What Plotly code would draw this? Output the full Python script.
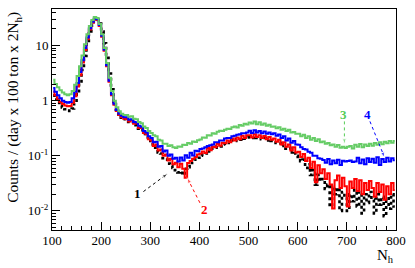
import plotly.graph_objects as go
import numpy as np

# ---------------- data (bin centres, 5 N_h wide bins) ----------------
bin_lo, bin_hi, bin_w = 100, 800, 5
nh = [bin_lo + bin_w / 2 + bin_w * i for i in range((bin_hi - bin_lo) // bin_w)]

curve1_black = [
    1.25, 1.05, 0.92, 0.82, 0.75, 0.7, 0.66, 0.65, 0.72, 0.9,
    1.3, 2.1, 3.6, 6.5, 10.5, 16.5, 23, 28, 29, 25,
    18, 11, 6, 3.1, 1.6, 0.95, 0.68, 0.56, 0.49, 0.46,
    0.44, 0.41, 0.42, 0.37, 0.36, 0.31, 0.29, 0.25, 0.22, 0.19,
    0.17, 0.145, 0.14, 0.115, 0.11, 0.09, 0.085, 0.072, 0.066, 0.06,
    0.055, 0.05, 0.052, 0.045, 0.058, 0.062, 0.07, 0.078, 0.085, 0.092,
    0.1, 0.105, 0.11, 0.125, 0.12, 0.135, 0.14, 0.15, 0.148, 0.16,
    0.165, 0.175, 0.17, 0.19, 0.185, 0.2, 0.195, 0.21, 0.205, 0.215,
    0.22, 0.21, 0.225, 0.21, 0.215, 0.2, 0.21, 0.19, 0.2, 0.185,
    0.185, 0.17, 0.172, 0.15, 0.155, 0.135, 0.14, 0.115, 0.12, 0.1,
    0.095, 0.08, 0.085, 0.06, 0.07, 0.045, 0.055, 0.03, 0.045, 0.035,
    0.038, 0.025, 0.03, 0.012, 0.028, 0.02, 0.026, 0.01, 0.022, 0.018,
    0.01, 0.02, 0.015, 0.024, 0.012, 0.022, 0.009, 0.02, 0.014, 0.022,
    0.016, 0.009, 0.02, 0.013, 0.018, 0.008, 0.017, 0.011, 0.02, 0.012,
]

curve2_red = [
    1.45, 1.25, 1.08, 0.95, 0.87, 0.82, 0.79, 0.8, 0.92, 1.2,
    1.8, 2.9, 4.9, 8.3, 13, 19.5, 26, 30, 29, 22.5,
    14.5, 8, 4.2, 2.2, 1.25, 0.84, 0.65, 0.55, 0.5, 0.47,
    0.46, 0.42, 0.44, 0.38, 0.39, 0.32, 0.32, 0.26, 0.245, 0.2,
    0.19, 0.15, 0.16, 0.125, 0.13, 0.1, 0.105, 0.082, 0.088, 0.07,
    0.075, 0.062, 0.072, 0.058, 0.04, 0.074, 0.08, 0.088, 0.095, 0.105,
    0.11, 0.12, 0.112, 0.138, 0.126, 0.148, 0.142, 0.165, 0.152, 0.172,
    0.168, 0.19, 0.176, 0.205, 0.19, 0.215, 0.2, 0.23, 0.21, 0.235,
    0.235, 0.215, 0.245, 0.22, 0.235, 0.21, 0.228, 0.2, 0.218, 0.195,
    0.205, 0.18, 0.195, 0.16, 0.175, 0.145, 0.16, 0.125, 0.142, 0.115,
    0.118, 0.095, 0.108, 0.08, 0.092, 0.06, 0.078, 0.033, 0.067, 0.048,
    0.057, 0.038, 0.048, 0.03, 0.011, 0.036, 0.044, 0.026, 0.04, 0.028,
    0.012, 0.034, 0.026, 0.038, 0.023, 0.036, 0.02, 0.032, 0.024, 0.035,
    0.026, 0.018, 0.032, 0.022, 0.03, 0.016, 0.028, 0.02, 0.032, 0.024,
]

curve3_green = [
    2.4, 2.0, 1.75, 1.55, 1.4, 1.3, 1.25, 1.3, 1.5, 1.95,
    2.8, 4.2, 6.6, 10.5, 16, 22.5, 29, 33, 31.5, 24.5,
    16, 9, 4.8, 2.6, 1.5, 1.0, 0.76, 0.64, 0.58, 0.55,
    0.55, 0.51, 0.52, 0.47, 0.46, 0.41, 0.39, 0.34, 0.32, 0.28,
    0.26, 0.235, 0.225, 0.195, 0.19, 0.165, 0.165, 0.15, 0.155, 0.142,
    0.138, 0.148, 0.145, 0.158, 0.156, 0.17, 0.165, 0.182, 0.178, 0.192,
    0.198, 0.215, 0.212, 0.235, 0.232, 0.255, 0.25, 0.272, 0.285, 0.28,
    0.298, 0.31, 0.305, 0.33, 0.34, 0.325, 0.36, 0.35, 0.38, 0.37,
    0.4, 0.385, 0.42, 0.375, 0.405, 0.365, 0.385, 0.35, 0.365, 0.335,
    0.34, 0.315, 0.33, 0.295, 0.31, 0.28, 0.295, 0.265, 0.27, 0.25,
    0.25, 0.225, 0.24, 0.21, 0.225, 0.195, 0.21, 0.185, 0.2, 0.175,
    0.182, 0.165, 0.17, 0.155, 0.16, 0.145, 0.157, 0.14, 0.145, 0.138,
    0.146, 0.15, 0.135, 0.158, 0.145, 0.163, 0.142, 0.16, 0.15, 0.165,
    0.152, 0.17, 0.158, 0.175, 0.162, 0.18, 0.168, 0.185, 0.172, 0.186,
]

curve4_blue = [
    1.7, 1.45, 1.25, 1.1, 1.0, 0.95, 0.92, 0.95, 1.1, 1.45,
    2.1, 3.3, 5.4, 9, 14, 20.5, 27, 31, 30, 23.5,
    15, 8.4, 4.4, 2.3, 1.3, 0.88, 0.68, 0.58, 0.53, 0.5,
    0.5, 0.45, 0.46, 0.41, 0.4, 0.35, 0.335, 0.28, 0.265, 0.225,
    0.21, 0.175, 0.18, 0.145, 0.15, 0.12, 0.125, 0.1, 0.105, 0.088,
    0.092, 0.079, 0.093, 0.082, 0.102, 0.092, 0.113, 0.101, 0.123, 0.121,
    0.133, 0.136, 0.142, 0.15, 0.155, 0.16, 0.175, 0.175, 0.19, 0.19,
    0.205, 0.21, 0.21, 0.225, 0.23, 0.24, 0.245, 0.255, 0.255, 0.265,
    0.285, 0.26, 0.29, 0.265, 0.28, 0.255, 0.275, 0.25, 0.265, 0.245,
    0.255, 0.23, 0.242, 0.21, 0.225, 0.19, 0.205, 0.172, 0.186, 0.16,
    0.158, 0.142, 0.133, 0.13, 0.118, 0.113, 0.1, 0.1, 0.09, 0.088,
    0.084, 0.075, 0.087, 0.07, 0.082, 0.073, 0.085, 0.068, 0.081, 0.079,
    0.08, 0.082, 0.077, 0.079, 0.092, 0.073, 0.086, 0.07, 0.09, 0.077,
    0.088, 0.075, 0.094, 0.068, 0.087, 0.077, 0.092, 0.079, 0.09, 0.083,
]

y_tick_vals = [0.01, 0.1, 1, 10]
y_tick_text = ["10<sup>-2</sup>", "10<sup>-1</sup>", "1", "10"]
x_tick_vals = [100, 200, 300, 400, 500, 600, 700, 800]

# curve labels: (text, colour, label N, label y, arrow start, arrow end)
labels = [
    ("1", "black", 274, 0.0204, (286, 0.0224), (336, 0.0480)),
    ("2", "red", 411, 0.0107, (401, 0.0140), (375, 0.0400)),
    ("3", "#55cc55", 694, 0.556, (695, 0.42), (695, 0.160)),
    ("4", "blue", 741, 0.556, (747, 0.42), (777, 0.092)),
]

FONT = "Liberation Serif"

fig = go.Figure()
series = [
    ("1", curve1_black, "black", 2.6, "dot"),
    ("2", curve2_red, "#ff0000", 2.0, "solid"),
    ("4", curve4_blue, "#0000ff", 2.0, "solid"),
    ("3", curve3_green, "#66cc66", 2.0, "solid"),
]
for name, ys, col, w, dash in series:
    fig.add_trace(go.Scatter(x=nh, y=ys, mode="lines", name=name,
                             line=dict(color=col, width=w, dash=dash, shape="hvh"),
                             showlegend=False, hoverinfo="skip"))

for txt, col, lx, ly, a0, a1 in labels:
    fig.add_trace(go.Scatter(
        x=[a0[0], a1[0]], y=[a0[1], a1[1]], mode="lines+markers",
        line=dict(color=col, width=1, dash="dot"),
        marker=dict(symbol="arrow", size=[0, 6], color=col, angleref="previous"),
        showlegend=False, hoverinfo="skip"))
    fig.add_annotation(x=lx, y=np.log10(ly), text="<b>%s</b>" % txt, showarrow=False,
                       font=dict(family=FONT, size=13, color=col))

minor_y = [m * 10.0 ** e for e in range(-3, 2) for m in range(2, 10)]
minor_y = [v for v in minor_y if 0.0045 <= v <= 46]

fig.update_xaxes(range=[100, 800], tickvals=x_tick_vals, ticks="inside", ticklen=8,
                 tickcolor="black", showline=True, linecolor="black", linewidth=1,
                 mirror=True, showgrid=False, zeroline=False, ticklabelstandoff=-2,
                 ticklabeloverflow="allow",
                 tickfont=dict(family=FONT, size=13, color="black"),
                 minor=dict(dtick=20, ticks="inside", ticklen=4, tickcolor="black", showgrid=False))
fig.update_yaxes(type="log", range=[np.log10(0.0045), np.log10(46)],
                 tickvals=y_tick_vals, ticktext=y_tick_text, ticks="inside", ticklen=8,
                 tickcolor="black", showline=True, linecolor="black", linewidth=1,
                 mirror=True, showgrid=False, zeroline=False, ticklabeloverflow="allow",
                 tickfont=dict(family=FONT, size=13, color="black"),
                 minor=dict(tickmode="array", tickvals=minor_y, ticks="inside", ticklen=4,
                            tickcolor="black", showgrid=False))

fig.add_annotation(xref="paper", yref="paper", x=-0.145, y=0.997, xanchor="left", yanchor="top",
                   text="Counts / (day x 100 ton x 2N<sub>h</sub>)", textangle=-90,
                   showarrow=False, font=dict(family=FONT, size=15.5, color="black"))
fig.add_annotation(xref="paper", yref="paper", x=1.0, y=-0.118, xanchor="right", yanchor="middle",
                   text="N<sub>h</sub>", showarrow=False,
                   font=dict(family=FONT, size=15, color="black"))

fig.update_layout(width=415, height=268, margin=dict(l=52, r=19, t=9, b=38),
                  paper_bgcolor="white", plot_bgcolor="white")
fig.write_html("out.html", config={"displayModeBar": False},
               post_script="document.body.style.margin='0';document.body.style.padding='0';")
